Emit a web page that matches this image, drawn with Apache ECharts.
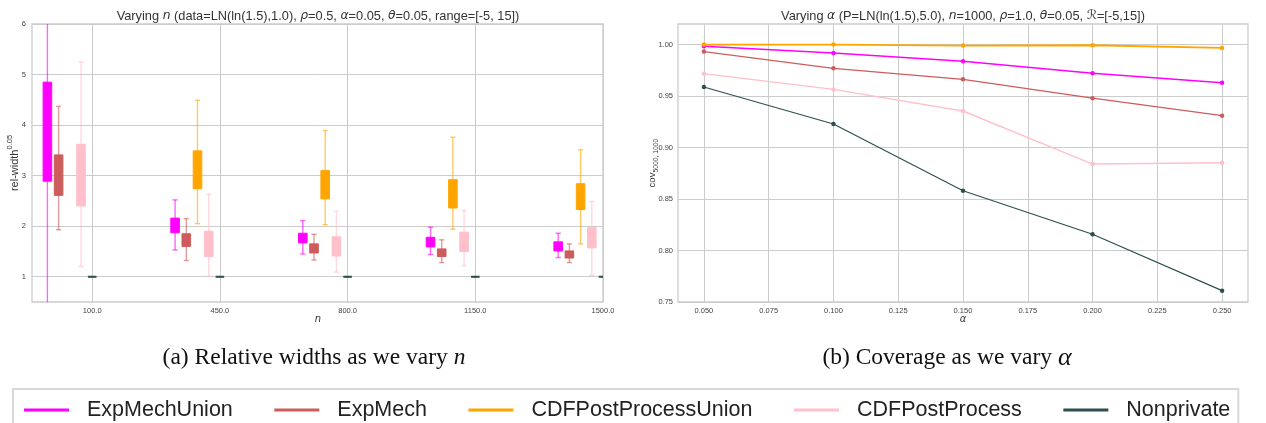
<!DOCTYPE html>
<html><head><meta charset="utf-8">
<script src="https://cdn.jsdelivr.net/npm/echarts@6/dist/echarts.min.js"></script>
<style>html,body{margin:0;padding:0;background:#fff}#c{width:1266px;height:423px}</style>
</head><body><div id="c"></div>
<script>
// ---------- data ----------
const methods = ['ExpMechUnion', 'ExpMech', 'CDFPostProcessUnion', 'CDFPostProcess', 'Nonprivate'];
const colors = ['#ff00ff', '#cd5c5c', '#ffa500', '#ffc0cb', '#2f4f4f'];

// panel (a): sample sizes
const nValues = [100, 450, 800, 1150, 1500];
// box stats per n: [low whisker, Q1, Q3, high whisker]
const expMechUnionBox = [[0.2, 2.89, 4.85, 8.0], [1.53, 1.87, 2.16, 2.52], [1.45, 1.67, 1.86, 2.11], [1.44, 1.59, 1.78, 1.98], [1.38, 1.51, 1.69, 1.86]];
const expMechBox = [[1.93, 2.61, 3.41, 4.37], [1.32, 1.60, 1.85, 2.15], [1.33, 1.47, 1.65, 1.84], [1.28, 1.40, 1.55, 1.73], [1.28, 1.37, 1.51, 1.65]];
const cdfPostProcessUnionBox = [null, [2.05, 2.74, 3.49, 4.49], [2.03, 2.54, 3.10, 3.89], [1.94, 2.36, 2.92, 3.76], [1.65, 2.33, 2.84, 3.51]];
const cdfPostProcessBox = [[1.20, 2.40, 3.62, 5.25], [1.01, 1.40, 1.90, 2.63], [1.09, 1.41, 1.79, 2.29], [1.22, 1.50, 1.88, 2.31], [1.03, 1.57, 1.97, 2.49]];
const nonprivateBox = [[1.0, 1.0, 1.0, 1.0], [1.0, 1.0, 1.0, 1.0], [1.0, 1.0, 1.0, 1.0], [1.0, 1.0, 1.0, 1.0], [1.0, 1.0, 1.0, 1.0]];

// panel (b): coverage vs alpha
const alphas = [0.05, 0.10, 0.15, 0.20, 0.25];
const expMechUnionCov = [0.9984, 0.9919, 0.9838, 0.9721, 0.9630];
const expMechCov = [0.9932, 0.9770, 0.9663, 0.9480, 0.9310];
const cdfPostProcessUnionCov = [1.0000, 1.0000, 0.9990, 0.9993, 0.9968];
const cdfPostProcessCov = [0.9718, 0.9565, 0.9355, 0.8840, 0.8852];
const nonprivateCov = [0.9588, 0.9229, 0.8580, 0.8158, 0.7610];

// tick labels
const leftYTicks = [1, 2, 3, 4, 5, 6];
const rightXTicks = [0.05, 0.075, 0.1, 0.125, 0.15, 0.175, 0.2, 0.225, 0.25];
const rightYTicks = [0.75, 0.8, 0.85, 0.9, 0.95, 1.0];

const boxSets = [expMechUnionBox, expMechBox, cdfPostProcessUnionBox, cdfPostProcessBox, nonprivateBox];
const covSets = [expMechUnionCov, expMechCov, cdfPostProcessUnionCov, cdfPostProcessCov, nonprivateCov];

// ---------- chart ----------
const chart = echarts.init(document.getElementById('c'), null, {renderer: 'canvas'});
const SANS = 'Liberation Sans, Arial, sans-serif';
const GRID_COLOR = '#cccccc';
const tickFont = {fontSize: 7.5, color: '#444', fontFamily: SANS};

function makeRender(k) {
  return function (params, api) {
    const n = api.value(0);
    const pLow = api.coord([n, api.value(1)]);
    const pQ1 = api.coord([n, api.value(2)]);
    const pQ3 = api.coord([n, api.value(3)]);
    const pHigh = api.coord([n, api.value(4)]);
    const cx = pLow[0] + (k - 4) * 11.2;
    const bw = 8.6, cw = 5.2;
    const col = colors[k];
    const ws = {stroke: col, lineWidth: 1.4, opacity: 0.6};
    return {
      type: 'group',
      children: [
        {type: 'line', shape: {x1: cx, y1: pLow[1], x2: cx, y2: pHigh[1]}, style: ws},
        {type: 'line', shape: {x1: cx - cw / 2, y1: pLow[1], x2: cx + cw / 2, y2: pLow[1]}, style: ws},
        {type: 'line', shape: {x1: cx - cw / 2, y1: pHigh[1], x2: cx + cw / 2, y2: pHigh[1]}, style: ws},
        {type: 'rect', shape: {x: cx - bw / 2, y: pQ3[1], width: bw, height: pQ1[1] - pQ3[1]},
          style: {fill: col, stroke: col, lineWidth: k === 4 ? 2 : 1}}
      ]
    };
  };
}

const series = [];
methods.forEach((m, k) => {
  const data = [];
  nValues.forEach((n, j) => {
    const b = boxSets[k][j];
    if (b) data.push([n, b[0], b[1], b[2], b[3]]);
  });
  series.push({
    name: m, type: 'custom', xAxisIndex: 0, yAxisIndex: 0, clip: true,
    encode: {x: 0, y: [1, 2, 3, 4]},
    itemStyle: {color: colors[k]},
    renderItem: makeRender(k), data: data
  });
});
const lineWidths = [1.6, 1.3, 1.9, 1.4, 1.2];
methods.forEach((m, k) => {
  series.push({
    name: m, type: 'line', xAxisIndex: 1, yAxisIndex: 1,
    data: alphas.map((a, j) => [a, covSets[k][j]]),
    symbol: 'circle', symbolSize: 4.5, showSymbol: true,
    itemStyle: {color: colors[k]},
    lineStyle: {color: colors[k], width: lineWidths[k]},
    animation: false
  });
});

const splitLine = {show: true, lineStyle: {color: GRID_COLOR, width: 1}};
const option = {
  animation: false,
  grid: [
    {left: 32, top: 24, width: 571, height: 278, show: true, borderColor: GRID_COLOR, borderWidth: 1.3, containLabel: false},
    {left: 678, top: 24, width: 570, height: 278, show: true, borderColor: GRID_COLOR, borderWidth: 1.3, containLabel: false}
  ],
  xAxis: [
    {gridIndex: 0, type: 'value', min: -65, max: 1500,
      axisLine: {show: false}, axisTick: {show: false, customValues: nValues},
      axisLabel: Object.assign({customValues: nValues, margin: 5, formatter: v => Number(v).toFixed(1)}, tickFont),
      splitLine: splitLine},
    {gridIndex: 1, type: 'value', min: 0.04, max: 0.26,
      axisLine: {show: false}, axisTick: {show: false, customValues: rightXTicks},
      axisLabel: Object.assign({customValues: rightXTicks, margin: 5, formatter: v => Number(v).toFixed(3)}, tickFont),
      splitLine: splitLine}
  ],
  yAxis: [
    {gridIndex: 0, type: 'value', min: 0.5, max: 6,
      axisLine: {show: false}, axisTick: {show: false, customValues: leftYTicks},
      axisLabel: Object.assign({customValues: leftYTicks, margin: 6, formatter: v => String(Math.round(v))}, tickFont),
      splitLine: splitLine},
    {gridIndex: 1, type: 'value', min: 0.75, max: 1.02,
      axisLine: {show: false}, axisTick: {show: false, customValues: rightYTicks},
      axisLabel: Object.assign({customValues: rightYTicks, margin: 5, formatter: v => Number(v).toFixed(2)}, tickFont),
      splitLine: splitLine}
  ],
  legend: {
    data: methods.map((m, i) => ({name: m, icon: 'rect', itemStyle: {color: colors[i]}})),
    left: 13, top: 389, itemWidth: 45, itemHeight: 3, itemGap: 41.5,
    padding: [10, 8, 8, 11], borderColor: '#d8d8d8', borderWidth: 2,
    textStyle: {fontSize: 21.5, fontFamily: SANS, color: '#222', padding: [0, 0, 0, 13]},
    selectedMode: false
  },
  graphic: [
    {type: 'text', x: 318, y: 16, style: {
      text: 'Varying {i|n} (data=LN(ln(1.5),1.0), {i|ρ}=0.5, {i|α}=0.05, {i|θ}=0.05, range=[-5, 15])',
      fontSize: 12.8, fontFamily: SANS, fill: '#333', align: 'center', verticalAlign: 'middle',
      rich: {i: {fontStyle: 'italic', fontFamily: 'DejaVu Sans', fontSize: 12.3, fill: '#333'}}}},
    {type: 'text', x: 963, y: 16, style: {
      text: 'Varying {i|α} (P=LN(ln(1.5),5.0), {i|n}=1000, {i|ρ}=1.0, {i|θ}=0.05, {c|ℛ}=[-5,15])',
      fontSize: 12.8, fontFamily: SANS, fill: '#333', align: 'center', verticalAlign: 'middle',
      rich: {i: {fontStyle: 'italic', fontFamily: 'DejaVu Sans', fontSize: 12.3, fill: '#333'},
             c: {fontFamily: 'DejaVu Sans', fontSize: 12.8, fill: '#333'}}}},
    {type: 'text', x: 15, y: 163, rotation: Math.PI / 2, style: {
      text: 'rel-width{s|0.05}', fontSize: 11, fontFamily: SANS, fill: '#333', align: 'center', verticalAlign: 'middle',
      rich: {s: {fontSize: 7.5, fontFamily: SANS, fill: '#333', verticalAlign: 'top', lineHeight: 18}}}},
    {type: 'text', x: 652, y: 163, rotation: Math.PI / 2, style: {
      text: 'cov{s|5000, 1000}', fontSize: 9.5, fontFamily: SANS, fill: '#333', align: 'center', verticalAlign: 'middle',
      rich: {s: {fontSize: 6.8, fontFamily: SANS, fill: '#333', verticalAlign: 'bottom', lineHeight: 15}}}},
    {type: 'text', x: 318, y: 319, style: {text: 'n', fontSize: 10, fontStyle: 'italic', fontFamily: 'DejaVu Sans', fill: '#333', align: 'center', verticalAlign: 'middle'}},
    {type: 'text', x: 963, y: 319, style: {text: 'α', fontSize: 10, fontStyle: 'italic', fontFamily: 'DejaVu Sans', fill: '#333', align: 'center', verticalAlign: 'middle'}},
    {type: 'text', x: 314, y: 358, style: {
      text: '(a) Relative widths as we vary {i|n}', fontSize: 23.5, fontFamily: 'Liberation Serif', fill: '#111', align: 'center', verticalAlign: 'middle',
      rich: {i: {fontStyle: 'italic', fontFamily: 'Liberation Serif', fontSize: 23.5, fill: '#111'}}}},
    {type: 'text', x: 947, y: 358, style: {
      text: '(b) Coverage as we vary {i|α}', fontSize: 23.5, fontFamily: 'Liberation Serif', fill: '#111', align: 'center', verticalAlign: 'middle',
      rich: {i: {fontStyle: 'italic', fontFamily: 'Liberation Serif', fontSize: 26, fill: '#111'}}}}
  ],
  series: series
};
chart.setOption(option);
</script></body></html>
